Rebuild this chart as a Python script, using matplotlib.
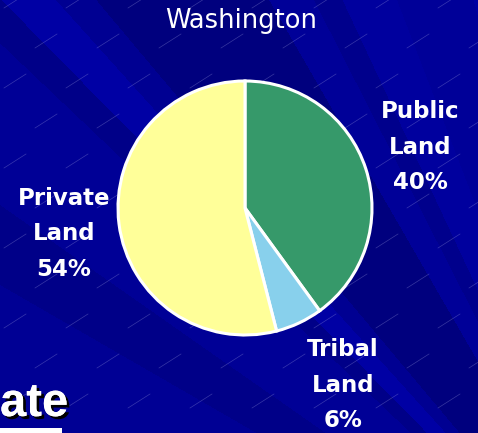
import numpy as np
import matplotlib
matplotlib.use("Agg")
import matplotlib.pyplot as plt
import matplotlib.patheffects as pe
from matplotlib.colors import to_rgb

# ---- data ----
title = "Washington"
categories = ["Public\nLand", "Tribal\nLand", "Private\nLand"]
values = [40, 6, 54]
colors = ["#36996a", "#88d0ec", "#ffff99"]

W, H = 478, 433
fig = plt.figure(figsize=(W / 100, H / 100), dpi=100)
ax = fig.add_axes([0, 0, 1, 1])

# ---- background: fan of diagonal bands ----
yy, xx = np.mgrid[0:H, 0:W]   # image coords, row 0 = top
theta = np.degrees(np.arctan2(660 - yy, 650 - xx))
img = np.tile(np.array(to_rgb("#000094")), (H, W, 1))
bands = [(30, 35, "#000088"), (35, 43.5, "#000096"), (43.5, 45.5, "#000088"),
         (45.5, 48, "#0000a4"), (48, 50, "#000092"), (50, 60, "#00007e"),
         (60, 63, "#000098"), (63, 65, "#00008c"), (65, 69, "#00009e"),
         (69, 75, "#000098"), (75, 100, "#0000a2")]
for lo, hi, col in bands:
    m = (theta >= lo) & (theta < hi)
    img[m] = to_rgb(col)
ax.imshow(img, extent=(0, W, 0, H), origin="upper", zorder=0, aspect="auto")

# faint short ascending streaks
for r in range(-2, 12):
    for c in range(-2, 10):
        x0 = c * 62 + (r % 2) * 31 + 4
        y0 = r * 40 + 8
        ax.plot([x0, x0 + 22], [H - y0, H - y0 + 14], color="#a0a0e0",
                lw=0.5, alpha=0.35, zorder=1)

# ---- pie ----
cx, cy, R = 245, H - 208, 127
wedges, _ = ax.pie(values, colors=colors, startangle=90, counterclock=False,
                   center=(cx, cy), radius=R, explode=[0, 0.02, 0],
                   wedgeprops=dict(edgecolor="white", linewidth=2.2),
                   frame=True)
for w in wedges:
    w.set_zorder(3)
ax.set_xlim(0, W)
ax.set_ylim(0, H)
ax.set_aspect("equal")
ax.axis("off")

# ---- texts ----
ax.text(241, H - 28, title, color="white", fontsize=18.5,
        family="DejaVu Sans", ha="center", va="baseline", zorder=5)

lab_fmt = dict(color="white", fontsize=16.5, fontweight="bold",
               family="DejaVu Sans", ha="center", va="center",
               linespacing=1.72, zorder=5)
label_pos = [(420, H - 147), (343, H - 385), (64, H - 234)]
for cat, v, (lx, ly) in zip(categories, values, label_pos):
    ax.text(lx, ly, f"{cat}\n{v}%", **lab_fmt)

# slide heading fragment at bottom-left, with drop shadow
ax.text(0, H - 416, "ate", color="white", fontsize=34, fontweight="bold",
        family="Liberation Sans", ha="left", va="baseline", zorder=6,
        path_effects=[pe.withSimplePatchShadow(offset=(2, -2),
                                               shadow_rgbFace="black",
                                               alpha=1.0),
                      pe.Normal()])
ax.add_patch(plt.Rectangle((0, 0), 62, 5, color="white", zorder=6, lw=0))

fig.savefig("out.png", dpi=100)
